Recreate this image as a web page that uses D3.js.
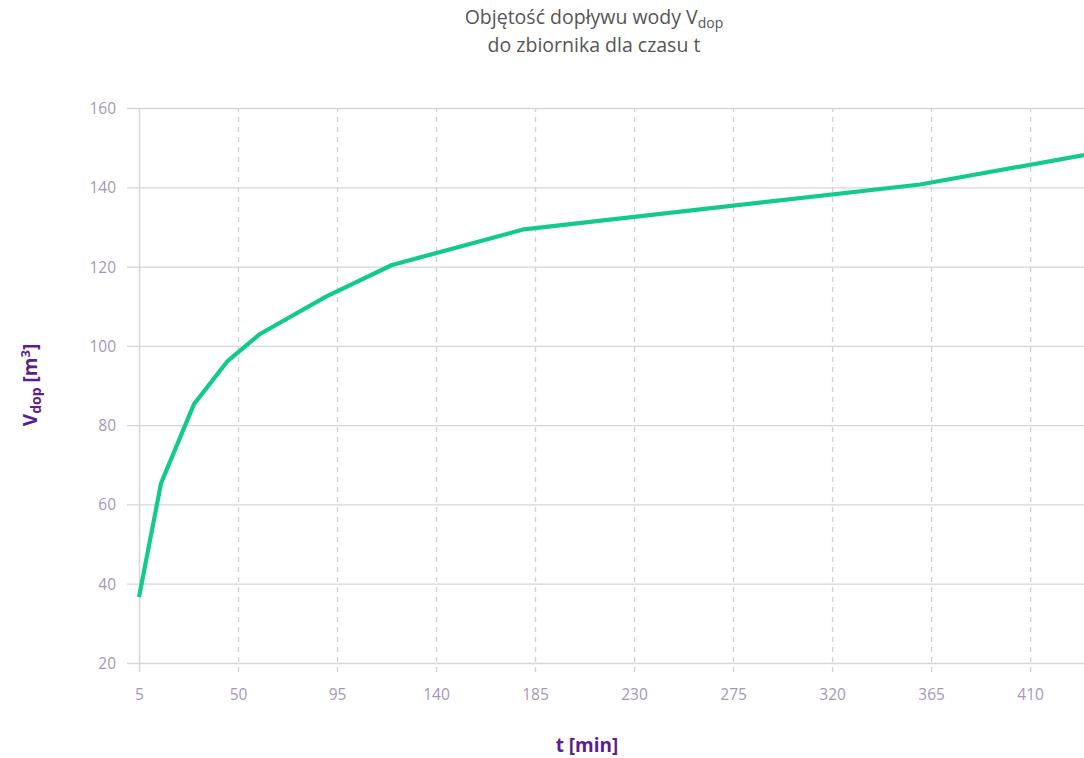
<!DOCTYPE html>
<html>
<head>
<meta charset="utf-8">
<script src="https://cdn.jsdelivr.net/npm/d3@7"></script>
<style>
  html, body { margin: 0; padding: 0; background: #fff; }
  svg { display: block; font-family: "Open Sans", Lato, sans-serif; }
</style>
</head>
<body>
<svg id="chart" width="1084" height="758"></svg>
<script>
// ---- data ----
const times = [5, 15, 30, 45, 60, 90, 120, 180, 360, 434.5];
const volumes = [36.6, 65.3, 85.3, 96.0, 103.0, 112.4, 120.4, 129.4, 140.7, 148.1];
const xTicks = [5, 50, 95, 140, 185, 230, 275, 320, 365, 410];
const yTicks = [20, 40, 60, 80, 100, 120, 140, 160];
const xDomain = [5, 434.5];
const yDomain = [20, 160];

const svg = d3.select("#chart");
const W = 1084, H = 758;
const m = { left: 139, right: 0, top: 108, bottom: 95 };

const x = d3.scaleLinear().domain(xDomain).range([m.left, W - m.right]);
const y = d3.scaleLinear().domain(yDomain).range([H - m.bottom, m.top]);

const tickColor = "#a597b8";
const gridColor = "#d6d6d6";
const tickFont = "'Open Sans', Lato, sans-serif";

// horizontal grid (y axis)
const yAxis = d3.axisLeft(y).tickValues(yTicks).tickSize(-(W - m.left - m.right)).tickSizeOuter(0).tickPadding(0);
const gy = svg.append("g").attr("transform", `translate(${m.left},0)`).call(yAxis)
  .attr("font-family", tickFont).attr("font-size", 15.5);
gy.select(".domain").remove();
gy.selectAll(".tick line").attr("stroke", gridColor).attr("stroke-width", 1.3).attr("x1", -12);
gy.selectAll(".tick text").attr("x", -23).attr("fill", tickColor).attr("dy", "0.35em");

// vertical grid (x axis)
const xAxis = d3.axisBottom(x).tickValues(xTicks).tickFormat(d3.format("d")).tickSize(0).tickPadding(0);
const gx = svg.append("g").attr("transform", `translate(0,${H - m.bottom})`).call(xAxis)
  .attr("font-family", tickFont).attr("font-size", 15.5);
gx.select(".domain").remove();
gx.selectAll(".tick line")
  .attr("y1", 9).attr("y2", -(H - m.bottom - m.top))
  .attr("stroke", d => d === xDomain[0] ? gridColor : "#d0d0d0")
  .attr("stroke-width", d => d === xDomain[0] ? 1.5 : 1.3)
  .attr("stroke-dasharray", d => d === xDomain[0] ? null : "5,5");
gx.selectAll(".tick text").attr("y", 32).attr("dy", "0.35em").attr("fill", tickColor);

// line
const data = times.map((t, i) => ({ t, v: volumes[i] }));
svg.append("path")
  .datum(data)
  .attr("fill", "none")
  .attr("stroke", "#12cb8a")
  .attr("stroke-width", 4.2)
  .attr("stroke-linejoin", "round")
  .attr("stroke-linecap", "butt")
  .attr("d", d3.line().x(d => x(d.t)).y(d => y(d.v)));

// title
const title = svg.append("text").attr("text-anchor", "middle").attr("fill", "#555555").attr("font-size", 19.5);
const l1 = title.append("tspan").attr("x", 594).attr("y", 24);
l1.append("tspan").text("Objętość dopływu wody V");
l1.append("tspan").attr("font-size", 14).attr("dy", 4).text("dop");
title.append("tspan").attr("x", 594).attr("y", 52).text("do zbiornika dla czasu t");

// axis titles
const purple = "#5a1e8e";
svg.append("text")
  .attr("x", 587).attr("y", 752)
  .attr("text-anchor", "middle")
  .attr("fill", purple).attr("font-size", 19).attr("font-weight", "bold")
  .text("t [min]");

const yt = svg.append("text")
  .attr("transform", "translate(37,385) rotate(-90)")
  .attr("text-anchor", "middle")
  .attr("fill", purple).attr("font-size", 19).attr("font-weight", "bold");
yt.append("tspan").text("V");
yt.append("tspan").attr("font-size", 14).attr("dy", 4).text("dop");
yt.append("tspan").attr("dy", -4).text(" [m");
yt.append("tspan").attr("font-size", 13).attr("dy", -7).text("3");
yt.append("tspan").attr("dy", 7).text("]");
</script>
</body>
</html>
